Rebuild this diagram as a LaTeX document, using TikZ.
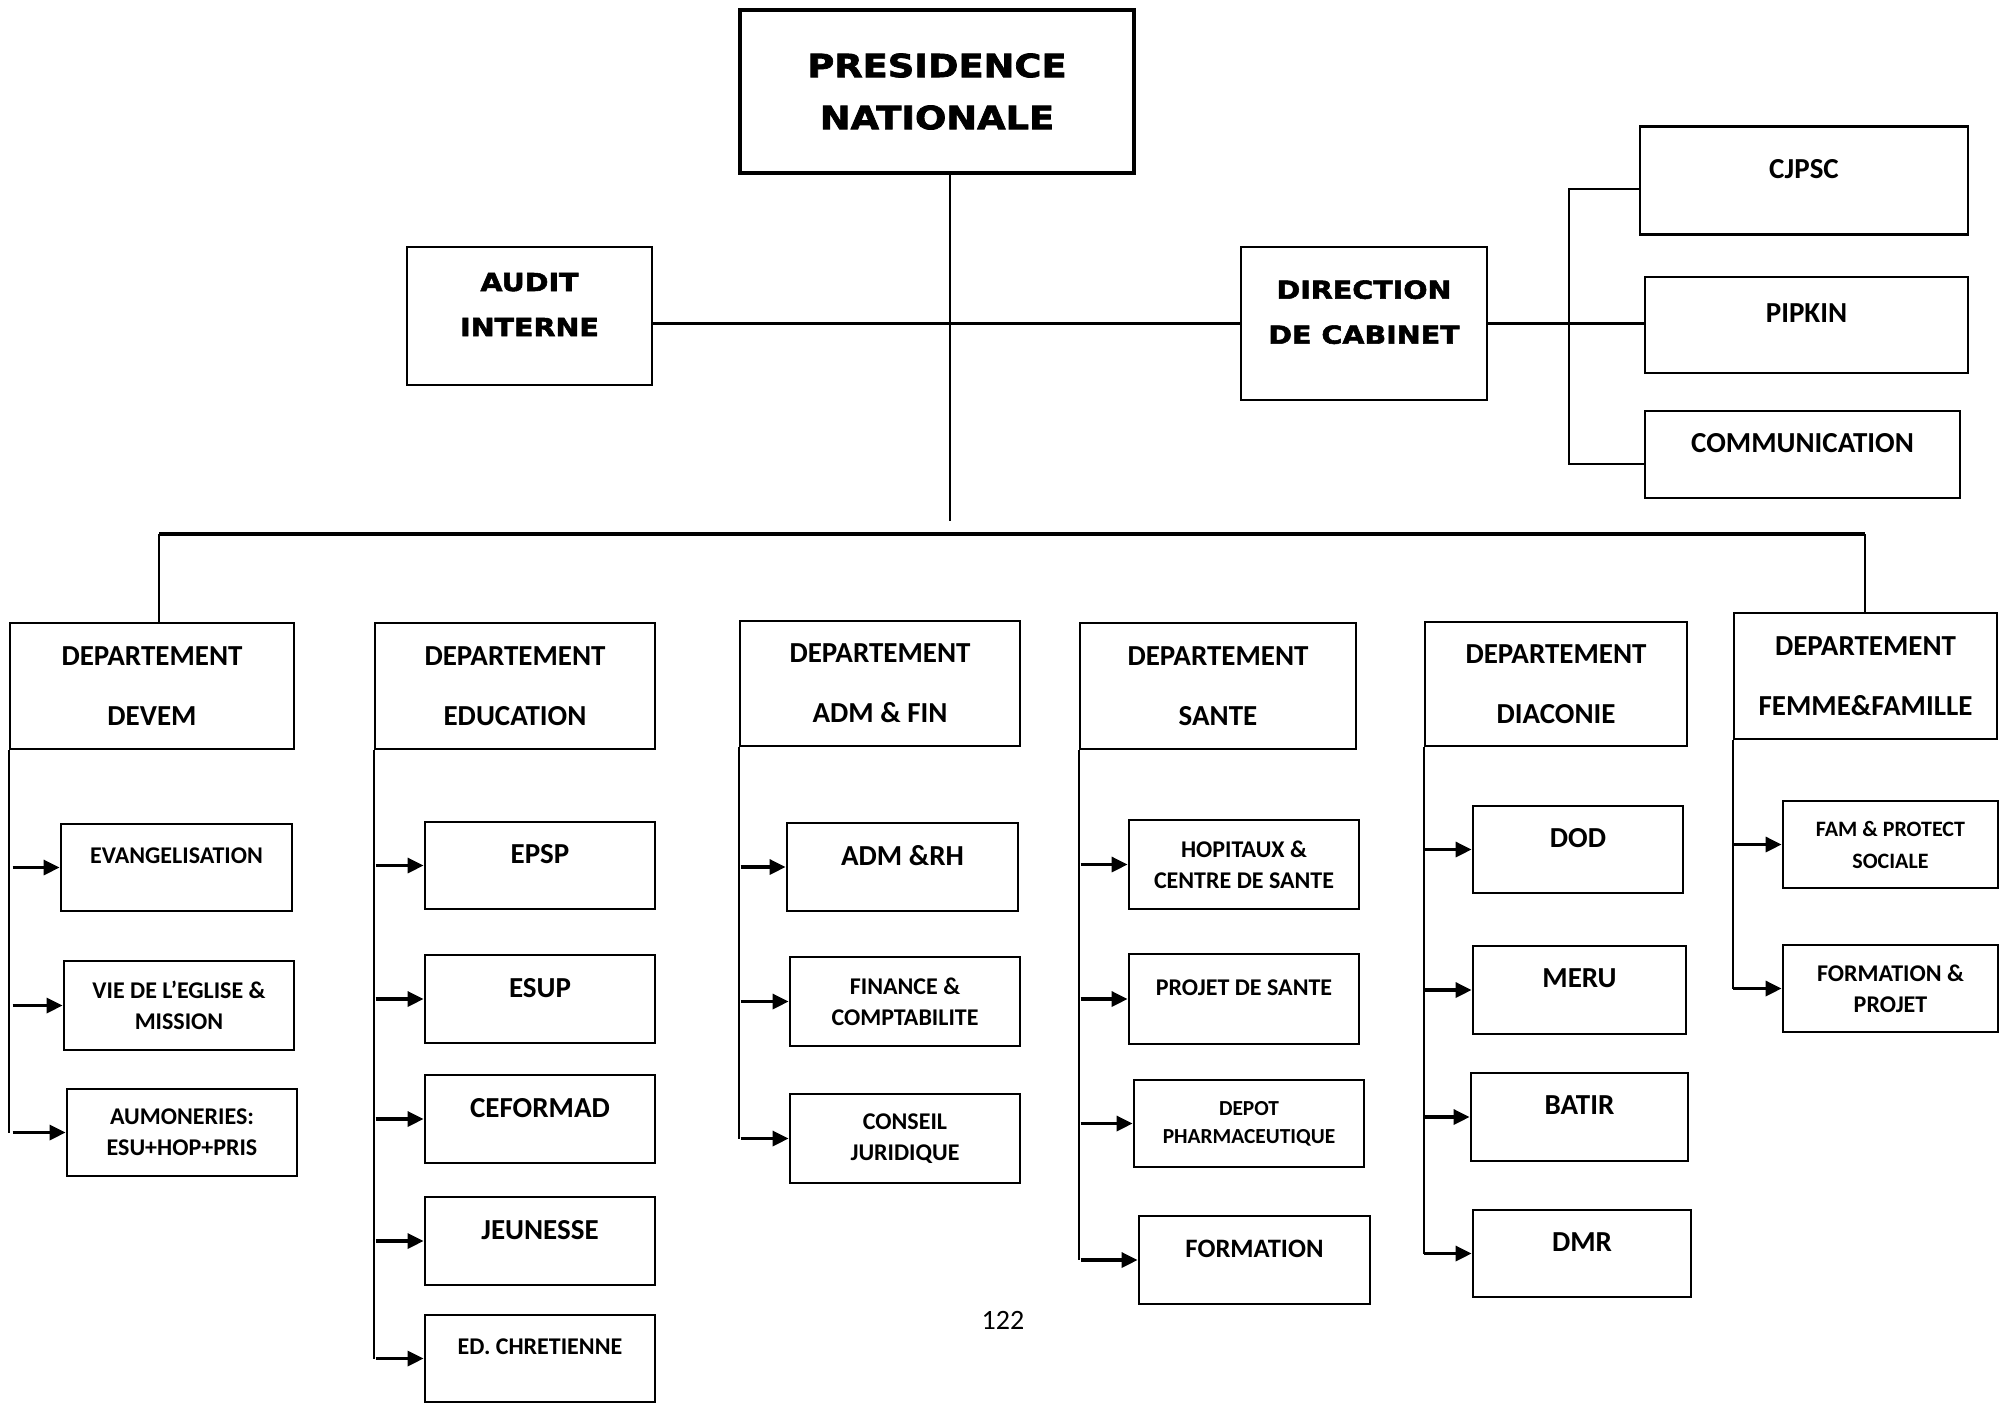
\documentclass[tikz,border=0pt]{standalone}
\usepackage{fontspec}
\setmainfont{Carlito}
\newfontfamily\heavyfont{DejaVu Sans}[FakeStretch=1.15, BoldFeatures={FakeBold=2.2}]
\usetikzlibrary{arrows.meta}

\tikzset{
  box/.style={draw, line width=1.4pt, inner sep=0pt, align=center},
  wh/.style n args={2}{minimum width=#1*0.5pt, minimum height=#2*0.5pt},
  big/.style={font=\bfseries\fontsize{14.5}{17.4}\selectfont},
  small/.style={font=\bfseries\fontsize{12}{15.4}\selectfont},
  heavy/.style={font=\heavyfont\bfseries\fontsize{12.4}{22.5}\selectfont},
  hightext/.style={text depth=11.5pt},
  link/.style={line width=0.9pt},
  arr/.style={line width=1.6pt, -{Triangle[length=8pt,width=7.5pt]}}
}

\begin{document}
\begin{tikzpicture}[x=0.5pt, y=-0.5pt]
  \useasboundingbox (0,0) rectangle (2007,1405);

  % top of the chart
  \node[box, line width=1.6pt, wh={394}{163},
        font=\heavyfont\bfseries\fontsize{16}{26}\selectfont]
        (pres) at (937,91.5) {PRESIDENCE\\NATIONALE};
  \node[box, heavy, hightext, wh={245}{138}] (audit) at (529.5,316) {AUDIT\\INTERNE};
  \node[box, heavy, hightext, wh={246}{153}] (dircab) at (1364,323.5) {DIRECTION\\DE CABINET};
  \node[box, big, hightext, wh={328}{108}] (cjpsc) at (1804,180.5) {CJPSC};
  \node[box, big, hightext, wh={323}{96}] (pipkin) at (1806.5,325) {PIPKIN};
  \node[box, big, hightext, wh={315}{87}] (comm) at (1802.5,454.5) {COMMUNICATION};

  \coordinate (trunkend) at (950,521);
  \coordinate (busL) at (159,534);
  \coordinate (busR) at (1865,534);
  \coordinate (brtop) at (1569,189);
  \coordinate (brbot) at (1569,464);

  \draw[line width=1pt] (pres.south -| trunkend) -- (trunkend);
  \draw[line width=1.3pt] (dircab.west) -- (dircab.west -| audit.east);
  \draw[line width=1.3pt] (dircab.east) -- (dircab.east -| pipkin.west);
  \draw[line width=1.2pt] (cjpsc.west |- brtop) -- (brtop) -- (brbot) -- (comm.west |- brbot);
  \draw[line width=1.6pt] (busL) -- (busR);

  % departements
  \node[box, big, wh={284}{126}] (devem) at (152,686) {DEPARTEMENT\\[12.6pt]DEVEM};
  \node[box, big, wh={280}{126}] (educ) at (515,686) {DEPARTEMENT\\[12.6pt]EDUCATION};
  \node[box, big, wh={280}{125}] (admfin) at (880,683.5) {DEPARTEMENT\\[12.6pt]ADM \& FIN};
  \node[box, big, wh={276}{126}] (sante) at (1218,686) {DEPARTEMENT\\[12.6pt]SANTE};
  \node[box, big, wh={262}{124}] (diac) at (1556,684) {DEPARTEMENT\\[12.6pt]DIACONIE};
  \node[box, big, wh={263}{126}] (femme) at (1865.5,676) {DEPARTEMENT\\[12.6pt]FEMME\&FAMILLE};

  \draw[link] (busL) -- (devem.north -| busL);
  \draw[link] (busR) -- (femme.north -| busR);

  % services
  \node[box, small, hightext, wh={231}{87}] (evang) at (176.5,867.5) {EVANGELISATION};
  \node[box, small, wh={230}{89}] (vie) at (179,1005.5) {VIE DE L’EGLISE \&\\MISSION};
  \node[box, small, wh={230}{87}] (aumon) at (182,1132.5) {AUMONERIES:\\ESU+HOP+PRIS};

  \node[box, big, hightext, wh={230}{87}] (epsp) at (540,865.5) {EPSP};
  \node[box, big, hightext, wh={230}{88}] (esup) at (540,999) {ESUP};
  \node[box, big, hightext, wh={230}{88}] (ceformad) at (540,1119) {CEFORMAD};
  \node[box, big, hightext, wh={230}{88}] (jeunesse) at (540,1241) {JEUNESSE};
  \node[box, small, hightext, wh={230}{87}] (edchret) at (540,1358.5) {ED. CHRETIENNE};

  \node[box, big, hightext, wh={231}{88}] (admrh) at (902.5,867) {ADM \&RH};
  \node[box, small, wh={230}{89}] (finance) at (905,1001.5) {FINANCE \&\\COMPTABILITE};
  \node[box, small, wh={230}{89}] (conseil) at (905,1138.5) {CONSEIL\\JURIDIQUE};

  \node[box, small, wh={230}{89}] (hopit) at (1244,864.5) {HOPITAUX \&\\CENTRE DE SANTE};
  \node[box, small, hightext, wh={230}{90}] (projet) at (1244,999) {PROJET DE SANTE};
  \node[box, wh={230}{87}, font=\bfseries\fontsize{10.7}{14}\selectfont]
        (depot) at (1249,1123.5) {DEPOT\\PHARMACEUTIQUE};
  \node[box, hightext, wh={231}{88}, font=\bfseries\fontsize{13.3}{16}\selectfont]
        (formation) at (1254.5,1260) {FORMATION};

  \node[box, big, hightext, wh={210}{87}] (dod) at (1578,849.5) {DOD};
  \node[box, big, hightext, wh={213}{88}] (meru) at (1579.5,990) {MERU};
  \node[box, big, hightext, wh={217}{88}] (batir) at (1579.5,1117) {BATIR};
  \node[box, big, hightext, wh={218}{87}] (dmr) at (1582,1253.5) {DMR};

  \node[box, wh={215}{87}, font=\bfseries\fontsize{11}{16}\selectfont]
        (famprot) at (1890.5,844.5) {FAM \& PROTECT\\SOCIALE};
  \node[box, small, wh={215}{87}] (formproj) at (1890.5,988.5) {FORMATION \&\\PROJET};

  % columns and arrows
  \draw[link] (devem.south west) -- (devem.south west |- aumon.west);
  \foreach \s in {evang,vie,aumon}
    \draw[arr] ([xshift=2pt]devem.south west |- \s.west) -- (\s.west);
  \draw[link] (educ.south west) -- (educ.south west |- edchret.west);
  \foreach \s in {epsp,esup,ceformad,jeunesse,edchret}
    \draw[arr] ([xshift=1pt]educ.south west |- \s.west) -- (\s.west);
  \draw[link] (admfin.south west) -- (admfin.south west |- conseil.west);
  \foreach \s in {admrh,finance,conseil}
    \draw[arr] ([xshift=1pt]admfin.south west |- \s.west) -- (\s.west);
  \draw[link] (sante.south west) -- (sante.south west |- formation.west);
  \foreach \s in {hopit,projet,depot,formation}
    \draw[arr] ([xshift=1pt]sante.south west |- \s.west) -- (\s.west);
  \draw[link] (diac.south west) -- (diac.south west |- dmr.west);
  \foreach \s in {dod,meru,batir,dmr}
    \draw[arr] (diac.south west |- \s.west) -- (\s.west);
  \draw[link] (femme.south west) -- (femme.south west |- formproj.west);
  \foreach \s in {famprot,formproj}
    \draw[arr] (femme.south west |- \s.west) -- (\s.west);

  \node[font=\fontsize{14}{17}\selectfont] (page) at (1003,1320) {122};
\end{tikzpicture}
\end{document}
